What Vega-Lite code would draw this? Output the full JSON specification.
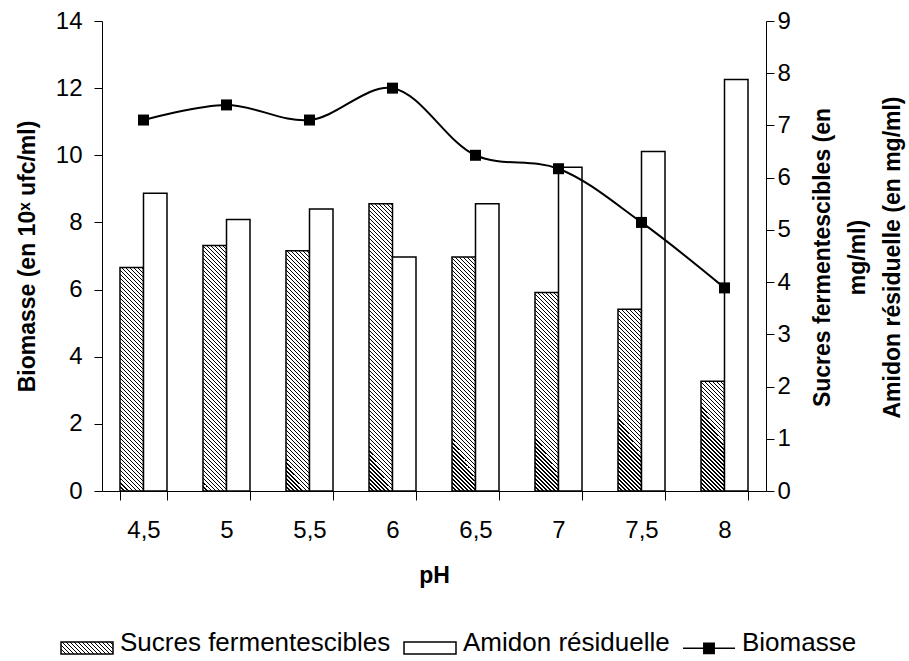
{
  "$schema": "https://vega.github.io/schema/vega-lite/v6.json",
  "width": 664,
  "height": 470,
  "autosize": "none",
  "padding": {"left": 102, "top": 21, "right": 143, "bottom": 170},
  "background": "white",
  "config": {
    "view": {"stroke": null},
    "font": "Liberation Sans",
    "axis": {
      "domainColor": "black", "tickColor": "black", "labelColor": "black", "titleColor": "black",
      "grid": false, "labelFont": "Liberation Sans", "titleFont": "Liberation Sans",
      "labelFontSize": 24, "titleFontSize": 23, "titleFontWeight": "bold",
      "domainWidth": 1, "tickWidth": 1
    }
  },
  "params": [
    {"name": "hatch", "value": [
{"offset":0,"color":"#000"},{"offset":0.005,"color":"#000"},{"offset":0.005,"color":"#fff"},{"offset":0.0125,"color":"#fff"},
{"offset":0.0125,"color":"#000"},{"offset":0.0175,"color":"#000"},{"offset":0.0175,"color":"#fff"},{"offset":0.025,"color":"#fff"},
{"offset":0.025,"color":"#000"},{"offset":0.03,"color":"#000"},{"offset":0.03,"color":"#fff"},{"offset":0.0375,"color":"#fff"},
{"offset":0.0375,"color":"#000"},{"offset":0.0425,"color":"#000"},{"offset":0.0425,"color":"#fff"},{"offset":0.05,"color":"#fff"},
{"offset":0.05,"color":"#000"},{"offset":0.055,"color":"#000"},{"offset":0.055,"color":"#fff"},{"offset":0.0625,"color":"#fff"},
{"offset":0.0625,"color":"#000"},{"offset":0.0675,"color":"#000"},{"offset":0.0675,"color":"#fff"},{"offset":0.075,"color":"#fff"},
{"offset":0.075,"color":"#000"},{"offset":0.08,"color":"#000"},{"offset":0.08,"color":"#fff"},{"offset":0.0875,"color":"#fff"},
{"offset":0.0875,"color":"#000"},{"offset":0.0925,"color":"#000"},{"offset":0.0925,"color":"#fff"},{"offset":0.1,"color":"#fff"},
{"offset":0.1,"color":"#000"},{"offset":0.105,"color":"#000"},{"offset":0.105,"color":"#fff"},{"offset":0.1125,"color":"#fff"},
{"offset":0.1125,"color":"#000"},{"offset":0.1175,"color":"#000"},{"offset":0.1175,"color":"#fff"},{"offset":0.125,"color":"#fff"},
{"offset":0.125,"color":"#000"},{"offset":0.13,"color":"#000"},{"offset":0.13,"color":"#fff"},{"offset":0.1375,"color":"#fff"},
{"offset":0.1375,"color":"#000"},{"offset":0.1425,"color":"#000"},{"offset":0.1425,"color":"#fff"},{"offset":0.15,"color":"#fff"},
{"offset":0.15,"color":"#000"},{"offset":0.155,"color":"#000"},{"offset":0.155,"color":"#fff"},{"offset":0.1625,"color":"#fff"},
{"offset":0.1625,"color":"#000"},{"offset":0.1675,"color":"#000"},{"offset":0.1675,"color":"#fff"},{"offset":0.175,"color":"#fff"},
{"offset":0.175,"color":"#000"},{"offset":0.18,"color":"#000"},{"offset":0.18,"color":"#fff"},{"offset":0.1875,"color":"#fff"},
{"offset":0.1875,"color":"#000"},{"offset":0.1925,"color":"#000"},{"offset":0.1925,"color":"#fff"},{"offset":0.2,"color":"#fff"},
{"offset":0.2,"color":"#000"},{"offset":0.205,"color":"#000"},{"offset":0.205,"color":"#fff"},{"offset":0.2125,"color":"#fff"},
{"offset":0.2125,"color":"#000"},{"offset":0.2175,"color":"#000"},{"offset":0.2175,"color":"#fff"},{"offset":0.225,"color":"#fff"},
{"offset":0.225,"color":"#000"},{"offset":0.23,"color":"#000"},{"offset":0.23,"color":"#fff"},{"offset":0.2375,"color":"#fff"},
{"offset":0.2375,"color":"#000"},{"offset":0.2425,"color":"#000"},{"offset":0.2425,"color":"#fff"},{"offset":0.25,"color":"#fff"},
{"offset":0.25,"color":"#000"},{"offset":0.255,"color":"#000"},{"offset":0.255,"color":"#fff"},{"offset":0.2625,"color":"#fff"},
{"offset":0.2625,"color":"#000"},{"offset":0.2675,"color":"#000"},{"offset":0.2675,"color":"#fff"},{"offset":0.275,"color":"#fff"},
{"offset":0.275,"color":"#000"},{"offset":0.28,"color":"#000"},{"offset":0.28,"color":"#fff"},{"offset":0.2875,"color":"#fff"},
{"offset":0.2875,"color":"#000"},{"offset":0.2925,"color":"#000"},{"offset":0.2925,"color":"#fff"},{"offset":0.3,"color":"#fff"},
{"offset":0.3,"color":"#000"},{"offset":0.305,"color":"#000"},{"offset":0.305,"color":"#fff"},{"offset":0.3125,"color":"#fff"},
{"offset":0.3125,"color":"#000"},{"offset":0.3175,"color":"#000"},{"offset":0.3175,"color":"#fff"},{"offset":0.325,"color":"#fff"},
{"offset":0.325,"color":"#000"},{"offset":0.33,"color":"#000"},{"offset":0.33,"color":"#fff"},{"offset":0.3375,"color":"#fff"},
{"offset":0.3375,"color":"#000"},{"offset":0.3425,"color":"#000"},{"offset":0.3425,"color":"#fff"},{"offset":0.35,"color":"#fff"},
{"offset":0.35,"color":"#000"},{"offset":0.355,"color":"#000"},{"offset":0.355,"color":"#fff"},{"offset":0.3625,"color":"#fff"},
{"offset":0.3625,"color":"#000"},{"offset":0.3675,"color":"#000"},{"offset":0.3675,"color":"#fff"},{"offset":0.375,"color":"#fff"},
{"offset":0.375,"color":"#000"},{"offset":0.38,"color":"#000"},{"offset":0.38,"color":"#fff"},{"offset":0.3875,"color":"#fff"},
{"offset":0.3875,"color":"#000"},{"offset":0.3925,"color":"#000"},{"offset":0.3925,"color":"#fff"},{"offset":0.4,"color":"#fff"},
{"offset":0.4,"color":"#000"},{"offset":0.405,"color":"#000"},{"offset":0.405,"color":"#fff"},{"offset":0.4125,"color":"#fff"},
{"offset":0.4125,"color":"#000"},{"offset":0.4175,"color":"#000"},{"offset":0.4175,"color":"#fff"},{"offset":0.425,"color":"#fff"},
{"offset":0.425,"color":"#000"},{"offset":0.43,"color":"#000"},{"offset":0.43,"color":"#fff"},{"offset":0.4375,"color":"#fff"},
{"offset":0.4375,"color":"#000"},{"offset":0.4425,"color":"#000"},{"offset":0.4425,"color":"#fff"},{"offset":0.45,"color":"#fff"},
{"offset":0.45,"color":"#000"},{"offset":0.455,"color":"#000"},{"offset":0.455,"color":"#fff"},{"offset":0.4625,"color":"#fff"},
{"offset":0.4625,"color":"#000"},{"offset":0.4675,"color":"#000"},{"offset":0.4675,"color":"#fff"},{"offset":0.475,"color":"#fff"},
{"offset":0.475,"color":"#000"},{"offset":0.48,"color":"#000"},{"offset":0.48,"color":"#fff"},{"offset":0.4875,"color":"#fff"},
{"offset":0.4875,"color":"#000"},{"offset":0.4925,"color":"#000"},{"offset":0.4925,"color":"#fff"},{"offset":0.5,"color":"#fff"},
{"offset":0.5,"color":"#000"},{"offset":0.505,"color":"#000"},{"offset":0.505,"color":"#fff"},{"offset":0.5125,"color":"#fff"},
{"offset":0.5125,"color":"#000"},{"offset":0.5175,"color":"#000"},{"offset":0.5175,"color":"#fff"},{"offset":0.525,"color":"#fff"},
{"offset":0.525,"color":"#000"},{"offset":0.53,"color":"#000"},{"offset":0.53,"color":"#fff"},{"offset":0.5375,"color":"#fff"},
{"offset":0.5375,"color":"#000"},{"offset":0.5425,"color":"#000"},{"offset":0.5425,"color":"#fff"},{"offset":0.55,"color":"#fff"},
{"offset":0.55,"color":"#000"},{"offset":0.555,"color":"#000"},{"offset":0.555,"color":"#fff"},{"offset":0.5625,"color":"#fff"},
{"offset":0.5625,"color":"#000"},{"offset":0.5675,"color":"#000"},{"offset":0.5675,"color":"#fff"},{"offset":0.575,"color":"#fff"},
{"offset":0.575,"color":"#000"},{"offset":0.58,"color":"#000"},{"offset":0.58,"color":"#fff"},{"offset":0.5875,"color":"#fff"},
{"offset":0.5875,"color":"#000"},{"offset":0.5925,"color":"#000"},{"offset":0.5925,"color":"#fff"},{"offset":0.6,"color":"#fff"},
{"offset":0.6,"color":"#000"},{"offset":0.605,"color":"#000"},{"offset":0.605,"color":"#fff"},{"offset":0.6125,"color":"#fff"},
{"offset":0.6125,"color":"#000"},{"offset":0.6175,"color":"#000"},{"offset":0.6175,"color":"#fff"},{"offset":0.625,"color":"#fff"},
{"offset":0.625,"color":"#000"},{"offset":0.63,"color":"#000"},{"offset":0.63,"color":"#fff"},{"offset":0.6375,"color":"#fff"},
{"offset":0.6375,"color":"#000"},{"offset":0.6425,"color":"#000"},{"offset":0.6425,"color":"#fff"},{"offset":0.65,"color":"#fff"},
{"offset":0.65,"color":"#000"},{"offset":0.655,"color":"#000"},{"offset":0.655,"color":"#fff"},{"offset":0.6625,"color":"#fff"},
{"offset":0.6625,"color":"#000"},{"offset":0.6675,"color":"#000"},{"offset":0.6675,"color":"#fff"},{"offset":0.675,"color":"#fff"},
{"offset":0.675,"color":"#000"},{"offset":0.68,"color":"#000"},{"offset":0.68,"color":"#fff"},{"offset":0.6875,"color":"#fff"},
{"offset":0.6875,"color":"#000"},{"offset":0.6925,"color":"#000"},{"offset":0.6925,"color":"#fff"},{"offset":0.7,"color":"#fff"},
{"offset":0.7,"color":"#000"},{"offset":0.705,"color":"#000"},{"offset":0.705,"color":"#fff"},{"offset":0.7125,"color":"#fff"},
{"offset":0.7125,"color":"#000"},{"offset":0.7175,"color":"#000"},{"offset":0.7175,"color":"#fff"},{"offset":0.725,"color":"#fff"},
{"offset":0.725,"color":"#000"},{"offset":0.73,"color":"#000"},{"offset":0.73,"color":"#fff"},{"offset":0.7375,"color":"#fff"},
{"offset":0.7375,"color":"#000"},{"offset":0.7425,"color":"#000"},{"offset":0.7425,"color":"#fff"},{"offset":0.75,"color":"#fff"},
{"offset":0.75,"color":"#000"},{"offset":0.755,"color":"#000"},{"offset":0.755,"color":"#fff"},{"offset":0.7625,"color":"#fff"},
{"offset":0.7625,"color":"#000"},{"offset":0.7675,"color":"#000"},{"offset":0.7675,"color":"#fff"},{"offset":0.775,"color":"#fff"},
{"offset":0.775,"color":"#000"},{"offset":0.78,"color":"#000"},{"offset":0.78,"color":"#fff"},{"offset":0.7875,"color":"#fff"},
{"offset":0.7875,"color":"#000"},{"offset":0.7925,"color":"#000"},{"offset":0.7925,"color":"#fff"},{"offset":0.8,"color":"#fff"},
{"offset":0.8,"color":"#000"},{"offset":0.805,"color":"#000"},{"offset":0.805,"color":"#fff"},{"offset":0.8125,"color":"#fff"},
{"offset":0.8125,"color":"#000"},{"offset":0.8175,"color":"#000"},{"offset":0.8175,"color":"#fff"},{"offset":0.825,"color":"#fff"},
{"offset":0.825,"color":"#000"},{"offset":0.83,"color":"#000"},{"offset":0.83,"color":"#fff"},{"offset":0.8375,"color":"#fff"},
{"offset":0.8375,"color":"#000"},{"offset":0.8425,"color":"#000"},{"offset":0.8425,"color":"#fff"},{"offset":0.85,"color":"#fff"},
{"offset":0.85,"color":"#000"},{"offset":0.855,"color":"#000"},{"offset":0.855,"color":"#fff"},{"offset":0.8625,"color":"#fff"},
{"offset":0.8625,"color":"#000"},{"offset":0.8675,"color":"#000"},{"offset":0.8675,"color":"#fff"},{"offset":0.875,"color":"#fff"},
{"offset":0.875,"color":"#000"},{"offset":0.88,"color":"#000"},{"offset":0.88,"color":"#fff"},{"offset":0.8875,"color":"#fff"},
{"offset":0.8875,"color":"#000"},{"offset":0.8925,"color":"#000"},{"offset":0.8925,"color":"#fff"},{"offset":0.9,"color":"#fff"},
{"offset":0.9,"color":"#000"},{"offset":0.905,"color":"#000"},{"offset":0.905,"color":"#fff"},{"offset":0.9125,"color":"#fff"},
{"offset":0.9125,"color":"#000"},{"offset":0.9175,"color":"#000"},{"offset":0.9175,"color":"#fff"},{"offset":0.925,"color":"#fff"},
{"offset":0.925,"color":"#000"},{"offset":0.93,"color":"#000"},{"offset":0.93,"color":"#fff"},{"offset":0.9375,"color":"#fff"},
{"offset":0.9375,"color":"#000"},{"offset":0.9425,"color":"#000"},{"offset":0.9425,"color":"#fff"},{"offset":0.95,"color":"#fff"},
{"offset":0.95,"color":"#000"},{"offset":0.955,"color":"#000"},{"offset":0.955,"color":"#fff"},{"offset":0.9625,"color":"#fff"},
{"offset":0.9625,"color":"#000"},{"offset":0.9675,"color":"#000"},{"offset":0.9675,"color":"#fff"},{"offset":0.975,"color":"#fff"},
{"offset":0.975,"color":"#000"},{"offset":0.98,"color":"#000"},{"offset":0.98,"color":"#fff"},{"offset":0.9875,"color":"#fff"},
{"offset":0.9875,"color":"#000"},{"offset":0.9925,"color":"#000"},{"offset":0.9925,"color":"#fff"},{"offset":1,"color":"#fff"}
    ]}
  ],
  "data": {"values": [
    {"pH": "4,5", "series": "Sucres fermentescibles", "value": 4.28},
    {"pH": "5", "series": "Sucres fermentescibles", "value": 4.7},
    {"pH": "5,5", "series": "Sucres fermentescibles", "value": 4.6},
    {"pH": "6", "series": "Sucres fermentescibles", "value": 5.5},
    {"pH": "6,5", "series": "Sucres fermentescibles", "value": 4.48},
    {"pH": "7", "series": "Sucres fermentescibles", "value": 3.8},
    {"pH": "7,5", "series": "Sucres fermentescibles", "value": 3.48},
    {"pH": "8", "series": "Sucres fermentescibles", "value": 2.1},
    {"pH": "4,5", "series": "Amidon résiduelle", "value": 5.7},
    {"pH": "5", "series": "Amidon résiduelle", "value": 5.2},
    {"pH": "5,5", "series": "Amidon résiduelle", "value": 5.4},
    {"pH": "6", "series": "Amidon résiduelle", "value": 4.48},
    {"pH": "6,5", "series": "Amidon résiduelle", "value": 5.5},
    {"pH": "7", "series": "Amidon résiduelle", "value": 6.2},
    {"pH": "7,5", "series": "Amidon résiduelle", "value": 6.5},
    {"pH": "8", "series": "Amidon résiduelle", "value": 7.88},
    {"pH": "4,5", "series": "Biomasse", "value": 11.05},
    {"pH": "5", "series": "Biomasse", "value": 11.5},
    {"pH": "5,5", "series": "Biomasse", "value": 11.05},
    {"pH": "6", "series": "Biomasse", "value": 12.0},
    {"pH": "6,5", "series": "Biomasse", "value": 10.0},
    {"pH": "7", "series": "Biomasse", "value": 9.6},
    {"pH": "7,5", "series": "Biomasse", "value": 8.0},
    {"pH": "8", "series": "Biomasse", "value": 6.05}
  ]},
  "encoding": {
    "x": {
      "field": "pH", "type": "ordinal",
      "sort": ["4,5", "5", "5,5", "6", "6,5", "7", "7,5", "8"],
      "scale": {"paddingInner": 0.43373, "paddingOuter": 0.216867},
      "axis": {"title": "pH", "labelAngle": 0, "tickBand": "extent", "tickSize": 9, "labelPadding": 18, "titlePadding": 22}
    }
  },
  "layer": [
    {
      "transform": [{"filter": "datum.series !== 'Biomasse'"}],
      "mark": {
        "type": "bar", "stroke": "black", "strokeWidth": 1.5,
        "fill": {"expr": "datum.series === 'Sucres fermentescibles' ? {gradient: 'linear', x1: 0, y1: 1, x2: 320 * 23.5 / (552.25 + pow(datum.value * 52.222, 2)), y2: 1 - 320 * datum.value * 52.222 / (552.25 + pow(datum.value * 52.222, 2)), stops: hatch} : '#ffffff'"}
      },
      "encoding": {
        "xOffset": {"field": "series", "type": "nominal", "sort": ["Sucres fermentescibles", "Amidon résiduelle"]},
        "y": {
          "field": "value", "type": "quantitative", "stack": null,
          "scale": {"domain": [0, 9], "nice": false},
          "axis": {
            "orient": "right", "values": [0, 1, 2, 3, 4, 5, 6, 7, 8, 9], "tickSize": 8, "labelPadding": 3,
            "title": ["Sucres fermentescibles (en", "mg/ml)", "Amidon résiduelle (en mg/ml)"],
            "titleAngle": 270, "titleBaseline": "top", "titleLineHeight": 35,
            "titleX": 45, "titleY": 236, "titleAlign": "center"
          }
        }
      }
    },
    {
      "transform": [{"filter": "datum.series === 'Biomasse'"}],
      "encoding": {
        "y": {
          "field": "value", "type": "quantitative",
          "scale": {"domain": [0, 14], "nice": false},
          "axis": {
            "orient": "left", "values": [0, 2, 4, 6, 8, 10, 12, 14], "tickSize": 8, "labelPadding": 12,
            "title": "Biomasse (en 10ˣ ufc/ml)", "titlePadding": 16
          }
        }
      },
      "layer": [
        {"mark": {"type": "line", "interpolate": "catmull-rom", "color": "black", "strokeWidth": 2}},
        {"mark": {"type": "point", "shape": "square", "filled": true, "size": 121, "opacity": 1, "fill": "black"}},
        {
          "mark": {"type": "point", "filled": true, "opacity": 0, "size": 10, "stroke": "black", "strokeWidth": 1.5},
          "encoding": {
            "fill": {
              "field": "series", "type": "nominal",
              "scale": {
                "domain": ["Sucres fermentescibles", "Amidon résiduelle", "Biomasse"],
                "range": [
                  {"expr": "{gradient: 'linear', x1: 0, y1: 1, x2: 5.843, y2: -0.348, stops: hatch}"},
                  "#ffffff", "#000000"
                ]
              },
              "legend": {
                "orient": "none", "legendX": -42, "legendY": 595, "direction": "horizontal", "columns": 3,
                "title": null, "padding": 0,
                "labelFont": "Liberation Sans", "labelFontSize": 26, "labelColor": "black", "labelOffset": 6, "labelLimit": 0,
                "columnPadding": 10, "symbolSize": 2704, "symbolStrokeWidth": 1.5, "symbolOpacity": 1
              }
            },
            "shape": {
              "field": "series", "type": "nominal",
              "scale": {
                "domain": ["Sucres fermentescibles", "Amidon résiduelle", "Biomasse"],
                "range": ["M-1,-0.04H1V0.42H-1Z", "M-1,-0.04H1V0.42H-1Z", "M-1,0.19H1M-0.2,-0.01H0.2V0.39H-0.2Z"]
              },
              "legend": {
                "orient": "none", "legendX": -42, "legendY": 595, "direction": "horizontal", "columns": 3,
                "title": null, "padding": 0,
                "labelFont": "Liberation Sans", "labelFontSize": 26, "labelColor": "black", "labelOffset": 6, "labelLimit": 0,
                "columnPadding": 10, "symbolSize": 2704, "symbolStrokeWidth": 1.5, "symbolOpacity": 1
              }
            }
          }
        }
      ]
    }
  ],
  "resolve": {"scale": {"y": "independent"}}
}
